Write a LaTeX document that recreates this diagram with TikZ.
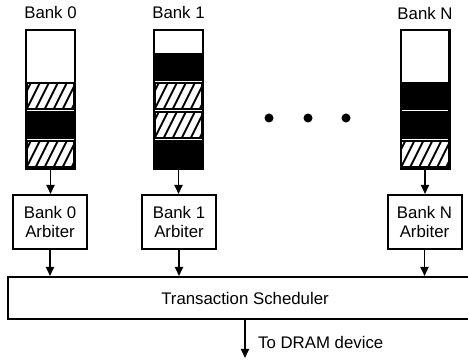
\documentclass[tikz,border=0pt]{standalone}
\usepackage{fontspec}
\setmainfont{Liberation Sans}
\usetikzlibrary{arrows.meta}
\begin{document}
\begin{tikzpicture}[x=1pt,y=1pt,
  txt/.style={font=\fontsize{16.8}{19}\selectfont, inner sep=0pt},
  bankcol/.style={draw, line width=2.4pt, minimum width=48.6pt, minimum height=138.6pt, inner sep=0pt},
  cellbase/.style={draw, line width=1.6pt, minimum width=47.5pt, minimum height=26pt, inner sep=0pt},
  full/.style={cellbase, fill=black},
  hatch/.style={cellbase, path picture={\foreach \k in {-2,...,6} \draw[line width=2pt] ([xshift=\k*9pt]path picture bounding box.south west) -- ++(13pt,26pt);}},
  arb/.style={draw, line width=2pt, minimum width=74pt, minimum height=54pt, align=center, txt},
  sched/.style={draw, line width=2pt, minimum width=474pt, minimum height=42pt, txt},
  conn/.style={line width=1.8pt, -{Triangle[length=9pt,width=8pt]}},
]
\useasboundingbox (0,0) rectangle (468,363);

% bank labels
\node[txt] (lab0) at (50.5,350) {Bank 0};
\node[txt] (lab1) at (178.5,350) {Bank 1};
\node[txt] (labN) at (425,349) {Bank N};

% bank columns
\node[bankcol] (col0) at (50.5,263.5) {};
\node[bankcol] (col1) at (178.5,263.5) {};
\node[bankcol] (colN) at (425,263.5) {};

% Bank 0 cells
\node[hatch] (c0a) at (50.5,209) {};
\node[full]  (c0b) at (50.5,238) {};
\node[hatch] (c0c) at (50.5,267) {};
% Bank 1 cells
\node[full]  (c1a) at (178.5,209) {};
\node[hatch] (c1b) at (178.5,238) {};
\node[hatch] (c1c) at (178.5,267) {};
\node[full]  (c1d) at (178.5,296) {};
% Bank N cells
\node[hatch] (cNa) at (425,209) {};
\node[full]  (cNb) at (425,238) {};
\node[full]  (cNc) at (425,267) {};

% dots
\fill (269,245) circle (4.5);
\fill (308,245) circle (4.5);
\fill (346,245) circle (4.5);

% arbiters
\node[arb] (arb0) at (50,141) {Bank 0\\Arbiter};
\node[arb] (arb1) at (179,141) {Bank 1\\Arbiter};
\node[arb] (arbN) at (424.5,141) {Bank N\\Arbiter};

% scheduler
\node[sched] (sch) at (245,65) {Transaction Scheduler};

% connectors
\draw[conn] (col0.south) -- (col0.south |- arb0.north);
\draw[conn] (col1.south) -- (col1.south |- arb1.north);
\draw[conn] (colN.south) -- (colN.south |- arbN.north);
\draw[conn] (arb0.south) -- (arb0.south |- sch.north);
\draw[conn] (arb1.south) -- (arb1.south |- sch.north);
\draw[conn] (arbN.south) -- (arbN.south |- sch.north);
\coordinate (out) at (245,5);
\draw[conn] (sch.south) -- (out);
\node[txt, anchor=west] (dram) at (258,21) {To DRAM device};
\end{tikzpicture}
\end{document}
